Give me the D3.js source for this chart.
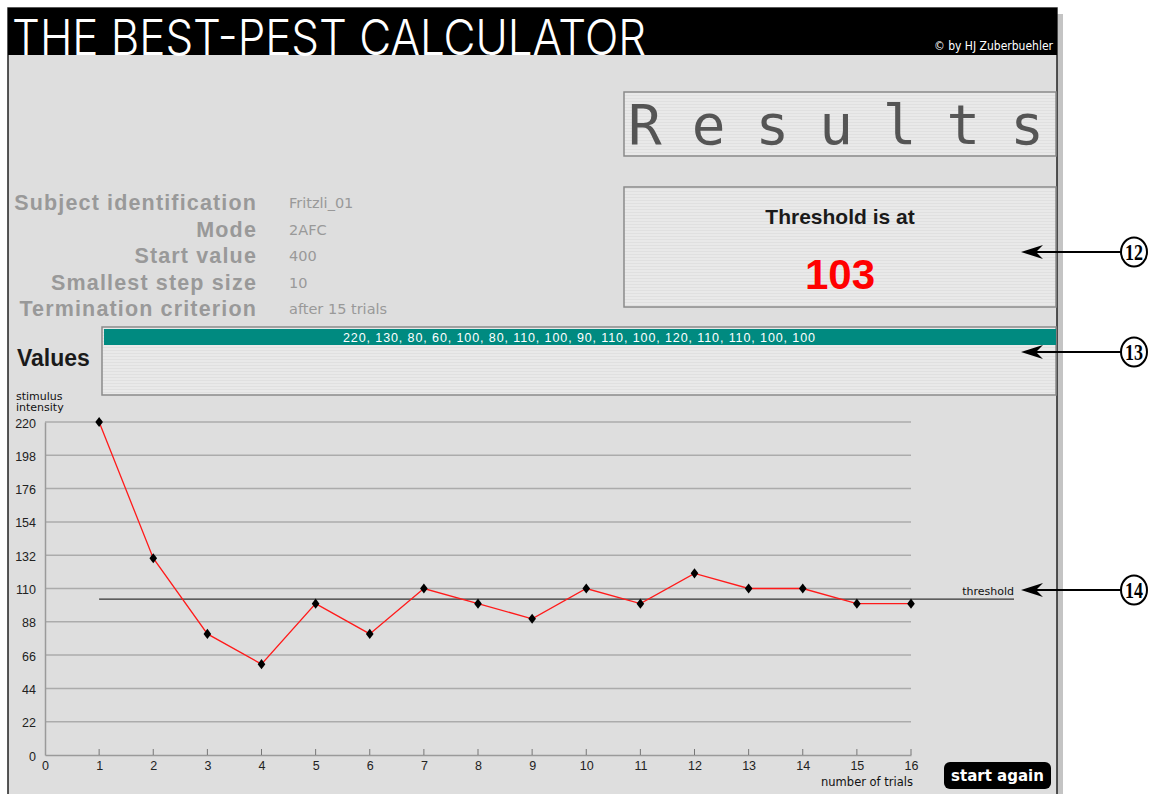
<!DOCTYPE html>
<html>
<head>
<meta charset="utf-8">
<script src="https://cdn.jsdelivr.net/npm/d3@7"></script>
<style>
  body { margin: 0; background: #fff; }
  svg { display: block; font-family: Arial, "Liberation Sans", sans-serif; }
</style>
</head>
<body>
<script>
// data
var trials = [1, 2, 3, 4, 5, 6, 7, 8, 9, 10, 11, 12, 13, 14, 15, 16];
var values = [220, 130, 80, 60, 100, 80, 110, 100, 90, 110, 100, 120, 110, 110, 100, 100];
var xTicks = [0, 1, 2, 3, 4, 5, 6, 7, 8, 9, 10, 11, 12, 13, 14, 15, 16];
var yTicks = [0, 22, 44, 66, 88, 110, 132, 154, 176, 198, 220];
var threshold = 103;

var infoLabels = ["Subject identification", "Mode", "Start value", "Smallest step size", "Termination criterion"];
var infoValues = ["Fritzli_01", "2AFC", "400", "10", "after 15 trials"];
var callouts = ["⑫", "⑬", "⑭"];

var svgWidth = 1150;
var svgHeight = 794;

var svg = d3.select("body")
    .append("svg")
    .attr("width", svgWidth)
    .attr("height", svgHeight);

// striped fill used by the result boxes
var defs = svg.append("defs");
var pat = defs.append("pattern")
    .attr("id", "stripes")
    .attr("patternUnits", "userSpaceOnUse")
    .attr("width", 4).attr("height", 3);
pat.append("rect").attr("width", 4).attr("height", 3).attr("fill", "#e9e9e9");
pat.append("rect").attr("y", 2).attr("width", 4).attr("height", 1).attr("fill", "#e0e0e0");

// window: shadow, panel, header
svg.append("rect").attr("x", 1057).attr("y", 14).attr("width", 6).attr("height", 780).attr("fill", "#c4c4c4");
svg.append("rect").attr("x", 8).attr("y", 8).attr("width", 1049).attr("height", 790)
    .attr("fill", "#dedede").attr("stroke", "#222").attr("stroke-width", 1.5);
svg.append("rect").attr("x", 8).attr("y", 8).attr("width", 1049).attr("height", 47).attr("fill", "#000");

svg.append("text")
    .attr("x", 12).attr("y", 55)
    .attr("fill", "#fff")
    .attr("font-family", "Inter, Lato, 'Open Sans', sans-serif")
    .attr("font-weight", 300)
    .attr("font-size", 49)
    .attr("textLength", 634)
    .attr("lengthAdjust", "spacingAndGlyphs")
    .text("THE BEST-PEST CALCULATOR");

svg.append("text")
    .attr("x", 1053).attr("y", 50)
    .attr("text-anchor", "end")
    .attr("fill", "#fff")
    .attr("font-family", "'DejaVu Sans Condensed', 'DejaVu Sans'")
    .attr("font-size", 12)
    .text("© by HJ Zuberbuehler");

// Results box
svg.append("rect").attr("x", 624).attr("y", 92).attr("width", 432).attr("height", 64)
    .attr("fill", "url(#stripes)").attr("stroke", "#8a8a8a").attr("stroke-width", 1.5);
svg.append("text")
    .attr("x", 628).attr("y", 144)
    .attr("fill", "#555")
    .attr("font-family", "'DejaVu Sans Mono', 'Liberation Mono', monospace")
    .attr("font-size", 56)
    .attr("letter-spacing", 30)
    .text("Results");

// threshold box
svg.append("rect").attr("x", 624).attr("y", 187).attr("width", 432).attr("height", 120)
    .attr("fill", "url(#stripes)").attr("stroke", "#8a8a8a").attr("stroke-width", 1.5);
svg.append("text")
    .attr("x", 840).attr("y", 224)
    .attr("text-anchor", "middle")
    .attr("font-weight", "bold").attr("font-size", 21).attr("fill", "#1a1a1a")
    .text("Threshold is at");
svg.append("text")
    .attr("x", 840).attr("y", 289)
    .attr("text-anchor", "middle")
    .attr("font-weight", "bold").attr("font-size", 42).attr("fill", "#ff0000")
    .text(threshold);

// subject info
var info = svg.append("g");
info.selectAll("text.lab")
    .data(infoLabels)
    .enter().append("text")
    .attr("class", "lab")
    .attr("x", 257)
    .attr("y", (d, i) => 210 + i * 26.6)
    .attr("text-anchor", "end")
    .attr("font-weight", "bold").attr("font-size", 21.5).attr("fill", "#999")
    .attr("letter-spacing", 1.15)
    .text(d => d);
info.selectAll("text.val")
    .data(infoValues)
    .enter().append("text")
    .attr("class", "val")
    .attr("x", 289)
    .attr("y", (d, i) => 208 + i * 26.6)
    .attr("font-family", "'DejaVu Sans', Verdana, sans-serif")
    .attr("font-size", 14.5).attr("fill", "#999")
    .text(d => d);

// values box
svg.append("rect").attr("x", 102).attr("y", 327).attr("width", 954).attr("height", 68)
    .attr("fill", "url(#stripes)").attr("stroke", "#8a8a8a").attr("stroke-width", 1.5);
svg.append("rect").attr("x", 104).attr("y", 329).attr("width", 952).attr("height", 16).attr("fill", "#008a80");
svg.append("text")
    .attr("x", 579).attr("y", 341.5)
    .attr("text-anchor", "middle")
    .attr("font-size", 12.5).attr("fill", "#fff")
    .attr("textLength", 472)
    .attr("lengthAdjust", "spacing")
    .text(values.join(", "));
svg.append("text")
    .attr("x", 17).attr("y", 366)
    .attr("font-weight", "bold").attr("font-size", 23).attr("fill", "#1a1a1a")
    .text("Values");

// chart
var x = d3.scaleLinear().domain([0, 16]).range([45, 911]);
var y = d3.scaleLinear().domain([0, 220]).range([755, 422]);

var chartGroup = svg.append("g");

chartGroup.selectAll("line.grid")
    .data(yTicks.slice(1))
    .enter().append("line")
    .attr("class", "grid")
    .attr("x1", x(0)).attr("x2", x(16))
    .attr("y1", d => y(d)).attr("y2", d => y(d))
    .attr("stroke", "#ababab").attr("stroke-width", 1.5);

// axes drawn through d3 axis generators
var leftAxis = d3.axisLeft(y).tickValues(yTicks).tickSize(0).tickPadding(9);
var bottomAxis = d3.axisBottom(x).tickValues(xTicks).tickSize(0).tickPadding(6).tickFormat(d3.format("d"));

var ly = chartGroup.append("g")
    .attr("transform", `translate(${x(0)},0)`)
    .call(leftAxis);
var bx = chartGroup.append("g")
    .attr("transform", `translate(0,${y(0)})`)
    .call(bottomAxis);

[ly, bx].forEach(function (g) {
    g.select(".domain").attr("stroke", "#9a9a9a").attr("stroke-width", 1.5);
    g.selectAll("text").attr("font-family", "Arial, 'Liberation Sans', sans-serif")
        .attr("font-size", 12.5).attr("fill", "#222");
});
ly.selectAll(".tick text").attr("dy", "0.4em");

// small upward ticks on x axis
chartGroup.selectAll("line.xt")
    .data(trials)
    .enter().append("line")
    .attr("class", "xt")
    .attr("x1", d => x(d)).attr("x2", d => x(d))
    .attr("y1", y(0)).attr("y2", y(0) - 6)
    .attr("stroke", "#777").attr("stroke-width", 1);

// threshold line
chartGroup.append("line")
    .attr("x1", x(1)).attr("x2", 1014)
    .attr("y1", y(threshold)).attr("y2", y(threshold))
    .attr("stroke", "#333").attr("stroke-width", 1.3);
chartGroup.append("text")
    .attr("x", 1014).attr("y", y(threshold) - 4)
    .attr("text-anchor", "end")
    .attr("font-family", "Verdana, 'DejaVu Sans', sans-serif")
    .attr("font-size", 11).attr("fill", "#111")
    .text("threshold");

// data line and markers
var line = d3.line()
    .x((d, i) => x(trials[i]))
    .y(d => y(d));

chartGroup.append("path")
    .datum(values)
    .attr("d", line)
    .attr("fill", "none")
    .attr("stroke", "#ff1a1a").attr("stroke-width", 1.3);

chartGroup.selectAll("path.pt")
    .data(values)
    .enter().append("path")
    .attr("class", "pt")
    .attr("d", d3.symbol().type(d3.symbolDiamond).size(30))
    .attr("transform", (d, i) => `translate(${x(trials[i])},${y(d)}) scale(1.3,1)`)
    .attr("fill", "#000");

// axis titles
svg.append("text").attr("x", 16).attr("y", 400)
    .attr("font-family", "Verdana, 'DejaVu Sans', sans-serif")
    .attr("font-size", 11).attr("fill", "#111").text("stimulus");
svg.append("text").attr("x", 16).attr("y", 411)
    .attr("font-family", "Verdana, 'DejaVu Sans', sans-serif")
    .attr("font-size", 11).attr("fill", "#111").text("intensity");
svg.append("text").attr("x", 913).attr("y", 786)
    .attr("text-anchor", "end")
    .attr("font-family", "Verdana, 'DejaVu Sans', sans-serif")
    .attr("font-size", 11.5).attr("fill", "#111").text("number of trials");

// start again button
svg.append("rect").attr("x", 944).attr("y", 762).attr("width", 107).attr("height", 27)
    .attr("rx", 6).attr("fill", "#000");
svg.append("text").attr("x", 997.5).attr("y", 781)
    .attr("text-anchor", "middle")
    .attr("font-family", "Verdana, 'DejaVu Sans', sans-serif")
    .attr("font-weight", "bold").attr("font-size", 15).attr("fill", "#fff")
    .text("start again");

// numbered callouts
var calloutY = [252, 352, 590];
var co = svg.selectAll("g.callout")
    .data(callouts)
    .enter().append("g")
    .attr("class", "callout")
    .attr("transform", (d, i) => `translate(0,${calloutY[i]})`);
co.append("line").attr("x1", 1030).attr("x2", 1121).attr("y1", 0).attr("y2", 0)
    .attr("stroke", "#000").attr("stroke-width", 1.8);
co.append("path").attr("d", "M1021,0 L1043,-7 L1036,0 L1043,7 Z").attr("fill", "#000");
co.append("ellipse").attr("cx", 1134).attr("cy", 0).attr("rx", 13).attr("ry", 14.5)
    .attr("fill", "#fff").attr("stroke", "#000").attr("stroke-width", 2);
co.append("text").attr("x", 1134).attr("y", 8)
    .attr("text-anchor", "middle")
    .attr("font-family", "'Liberation Serif', 'DejaVu Serif', serif")
    .attr("font-weight", "bold").attr("font-size", 23)
    .attr("textLength", 18).attr("lengthAdjust", "spacingAndGlyphs")
    .text((d, i) => String(12 + i));
</script>
</body>
</html>
